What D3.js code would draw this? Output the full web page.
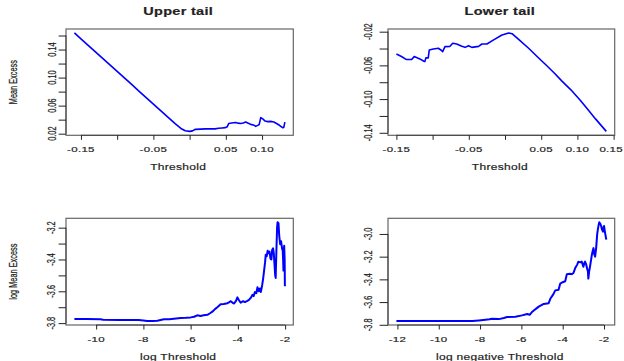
<!DOCTYPE html>
<html>
<head>
<meta charset="utf-8">
<script src="https://cdn.jsdelivr.net/npm/d3@7"></script>
<style>
  html, body { margin: 0; padding: 0; background: #fff; }
  svg { display: block; }
  text { font-family: "Liberation Sans", Arial, sans-serif; fill: #222; stroke: #222; stroke-width: 0.25px; }
</style>
</head>
<body>
<svg id="chart" width="624" height="361"></svg>
<script>
// ---------- data ----------
const upperX = [-0.159,-0.150,-0.140,-0.130,-0.120,-0.110,-0.100,-0.090,-0.080,-0.070,-0.060,-0.050,-0.040,-0.030,-0.020,-0.012,-0.006,0.000,0.004,0.008,0.015,0.022,0.029,0.035,0.040,0.045,0.049,0.052,0.054,0.058,0.0635,0.067,0.0704,0.074,0.0774,0.081,0.0843,0.088,0.0913,0.094,0.096,0.0982,0.101,0.1042,0.108,0.112,0.1162,0.120,0.124,0.1283,0.1300,0.1315];
const upperY = [0.1637,0.1553,0.1460,0.1367,0.1274,0.1181,0.1088,0.0995,0.0902,0.0808,0.0715,0.0622,0.0529,0.0436,0.0343,0.0275,0.0242,0.0233,0.0240,0.0262,0.0265,0.0268,0.0270,0.0268,0.0278,0.0282,0.0286,0.0300,0.0345,0.0352,0.0360,0.0350,0.0345,0.0352,0.0366,0.0350,0.0333,0.0325,0.0304,0.0318,0.0330,0.0429,0.0410,0.0380,0.0372,0.0375,0.0366,0.0345,0.0320,0.0286,0.0290,0.0366];

const lowerX = [-0.150,-0.143,-0.136,-0.129,-0.1254,-0.1176,-0.1120,-0.1107,-0.1093,-0.1060,-0.1046,-0.0990,-0.0921,-0.0880,-0.0861,-0.0829,-0.0760,-0.0722,-0.0667,-0.0597,-0.0551,-0.0504,-0.0458,-0.0365,-0.0319,-0.0250,-0.0157,-0.0042,0.0051,0.0097,0.020,0.033,0.045,0.056,0.068,0.079,0.091,0.1042,0.115,0.125,0.1399];
const lowerY = [-0.0464,-0.0495,-0.0531,-0.0531,-0.0496,-0.0523,-0.0551,-0.0555,-0.0511,-0.0511,-0.0417,-0.0405,-0.0397,-0.0420,-0.0437,-0.0378,-0.0374,-0.0338,-0.0346,-0.0374,-0.0386,-0.0366,-0.0386,-0.0374,-0.0346,-0.0346,-0.0298,-0.0239,-0.0215,-0.0224,-0.030,-0.040,-0.050,-0.059,-0.069,-0.079,-0.089,-0.1017,-0.113,-0.1235,-0.1383];

const logUpperX = [-10.92,-10.4,-9.82,-9.7,-9.0,-8.69,-8.2,-8.0,-7.84,-7.6,-7.41,-7.13,-6.9,-6.71,-6.42,-6.2,-6.0,-5.85,-5.72,-5.58,-5.45,-5.29,-5.18,-5.08,-4.97,-4.87,-4.73,-4.6,-4.44,-4.36,-4.30,-4.22,-4.16,-4.08,-4.02,-3.96,-3.88,-3.78,-3.70,-3.60,-3.53,-3.45,-3.38,-3.33,-3.28,-3.22,-3.17,-3.12,-3.07,-3.03,-2.97,-2.93,-2.89,-2.85,-2.82,-2.78,-2.74,-2.70,-2.66,-2.62,-2.58,-2.55,-2.51,-2.48,-2.45,-2.42,-2.40,-2.37,-2.34,-2.32,-2.28,-2.25,-2.21,-2.17,-2.13,-2.10,-2.08,-2.07,-2.05,-2.04,-2.02,-2.01];
const logUpperY = [-3.774,-3.774,-3.776,-3.779,-3.780,-3.781,-3.781,-3.783,-3.787,-3.787,-3.785,-3.776,-3.775,-3.772,-3.768,-3.767,-3.764,-3.760,-3.751,-3.755,-3.750,-3.748,-3.738,-3.728,-3.712,-3.700,-3.682,-3.680,-3.675,-3.668,-3.662,-3.672,-3.677,-3.660,-3.638,-3.655,-3.672,-3.662,-3.668,-3.660,-3.654,-3.640,-3.622,-3.630,-3.605,-3.612,-3.575,-3.600,-3.582,-3.605,-3.560,-3.520,-3.470,-3.420,-3.370,-3.380,-3.345,-3.360,-3.350,-3.395,-3.400,-3.340,-3.330,-3.360,-3.430,-3.500,-3.516,-3.350,-3.200,-3.166,-3.172,-3.250,-3.304,-3.285,-3.330,-3.345,-3.420,-3.470,-3.330,-3.314,-3.400,-3.569];

const logLowerX = [-12.05,-11.0,-10.0,-9.0,-8.38,-8.06,-7.74,-7.55,-7.42,-7.09,-6.85,-6.69,-6.29,-5.97,-5.72,-5.60,-5.50,-5.40,-5.16,-4.92,-4.68,-4.60,-4.45,-4.36,-4.20,-4.12,-4.00,-3.88,-3.80,-3.65,-3.56,-3.48,-3.40,-3.30,-3.24,-3.15,-3.08,-3.00,-2.95,-2.92,-2.86,-2.84,-2.78,-2.76,-2.72,-2.68,-2.62,-2.59,-2.55,-2.51,-2.47,-2.43,-2.38,-2.33,-2.30,-2.26,-2.23,-2.18,-2.14,-2.10,-2.05,-2.02,-2.00,-1.95,-1.89];
const logLowerY = [-3.767,-3.767,-3.767,-3.767,-3.767,-3.762,-3.756,-3.752,-3.747,-3.750,-3.740,-3.731,-3.729,-3.717,-3.705,-3.712,-3.690,-3.675,-3.640,-3.616,-3.610,-3.571,-3.530,-3.497,-3.491,-3.437,-3.425,-3.417,-3.354,-3.350,-3.354,-3.344,-3.303,-3.270,-3.244,-3.250,-3.244,-3.289,-3.255,-3.244,-3.270,-3.290,-3.330,-3.393,-3.330,-3.289,-3.220,-3.185,-3.150,-3.125,-3.180,-3.200,-3.120,-3.000,-2.962,-2.920,-2.897,-2.910,-2.930,-2.960,-2.980,-2.940,-2.930,-2.990,-3.050];

// ticks (all tick marks) and which get labels
const upperXTicks = [-0.15,-0.10,-0.05,0.00,0.05,0.10];
const upperXLabels = ["-0.15","","-0.05","","0.05","0.10"];
const upperYTicks = [0.02,0.04,0.06,0.08,0.10,0.12,0.14,0.16];
const upperYLabels = ["0.02","","0.06","","0.10","","0.14",""];

const lowerXTicks = [-0.15,-0.10,-0.05,0.00,0.05,0.10,0.15];
const lowerXLabels = ["-0.15","","-0.05","","0.05","0.10","0.15"];
const lowerYTicks = [-0.14,-0.12,-0.10,-0.08,-0.06,-0.04,-0.02];
const lowerYLabels = ["-0.14","","-0.10","","-0.06","","-0.02"];

const logUpperXTicks = [-10,-8,-6,-4,-2];
const logUpperXLabels = ["-10","-8","-6","-4","-2"];
const logUpperYTicks = [-3.8,-3.7,-3.6,-3.5,-3.4,-3.3,-3.2];
const logUpperYLabels = ["-3.8","","-3.6","","-3.4","","-3.2"];

const logLowerXTicks = [-12,-10,-8,-6,-4,-2];
const logLowerXLabels = ["-12","-10","-8","-6","-4","-2"];
const logLowerYTicks = [-3.8,-3.6,-3.4,-3.2,-3.0];
const logLowerYLabels = ["-3.8","-3.6","-3.4","-3.2","-3.0"];

const titles = ["Upper tail","Lower tail","",""];
const xTitles = ["Threshold","Threshold","log Threshold","log negative Threshold"];
const yTitles = ["Mean Excess","","log Mean Excess",""];

// ---------- layout ----------
const svg = d3.select("#chart");
const W = 624;
const SY = 0.7;   // vertical squash of horizontal text
const SR = 0.64;  // length squash of rotated text

const panels = [
  {x: upperX, y: upperY, xt: upperXTicks, xl: upperXLabels, yt: upperYTicks, yl: upperYLabels,
   box: {l: 66, r: 293.3, t: 29, b: 135.3}, yLabX: 51.5, tickL: 7.4, yTitleX: 13, xLabY: 149.3, xTitleY: 166.7, titleY: 11.5, lw: 1.6},
  {x: lowerX, y: lowerY, xt: lowerXTicks, xl: lowerXLabels, yt: lowerYTicks, yl: lowerYLabels,
   box: {l: 388, r: 614.7, t: 29, b: 135.3}, yLabX: 367.5, tickL: 8.4, yTitleX: 0, xLabY: 149.3, xTitleY: 166.7, titleY: 11.5, lw: 1.6},
  {x: logUpperX, y: logUpperY, xt: logUpperXTicks, xl: logUpperXLabels, yt: logUpperYTicks, yl: logUpperYLabels,
   box: {l: 66, r: 293.3, t: 218.3, b: 325}, yLabX: 50.5, tickL: 7.4, yTitleX: 13, xLabY: 339.3, xTitleY: 356.7, titleY: 0, lw: 2},
  {x: logLowerX, y: logLowerY, xt: logLowerXTicks, xl: logLowerXLabels, yt: logLowerYTicks, yl: logLowerYLabels,
   box: {l: 388, r: 614.7, t: 218.3, b: 325}, yLabX: 368, tickL: 8.4, yTitleX: 0, xLabY: 339.3, xTitleY: 356.7, titleY: 0, lw: 2}
];

function extDomain(arr) {
  const [a, b] = d3.extent(arr);
  const e = (b - a) * 0.04;
  return [a - e, b + e];
}

function hText(g, x, y, str, size, weight, spacing) {
  const t = g.append("text")
    .attr("text-anchor", "middle")
    .attr("dominant-baseline", "central")
    .style("font-size", size + "px")
    .style("font-weight", weight || "normal")
    .style("letter-spacing", (spacing || 0) + "px")
    .text(str);
  const half = t.node().getComputedTextLength() / 2;
  const cx = Math.min(x, W - 1 - half);
  t.attr("transform", `translate(${cx},${y}) scale(1,${SY})`);
}
function vText(g, x, y, str, size) {
  g.append("text")
    .attr("transform", `translate(${x},${y}) rotate(-90) scale(${SR},1)`)
    .attr("text-anchor", "middle")
    .attr("dominant-baseline", "central")
    .style("font-size", size + "px")
    .text(str);
}

panels.forEach((p, i) => {
  const g = svg.append("g");
  const B = p.box;
  const xs = d3.scaleLinear().domain(extDomain(p.x)).range([B.l, B.r]);
  const ys = d3.scaleLinear().domain(extDomain(p.y)).range([B.b, B.t]);

  // line
  const pts = p.x.map((v, k) => [v, p.y[k]]);
  g.append("path")
    .datum(pts)
    .attr("d", d3.line().x(d => xs(d[0])).y(d => ys(d[1])))
    .attr("fill", "none")
    .attr("stroke", "#0000ff")
    .attr("stroke-width", p.lw)
    .attr("stroke-linejoin", "round");

  // box
  g.append("rect")
    .attr("x", B.l).attr("y", B.t)
    .attr("width", B.r - B.l).attr("height", B.b - B.t)
    .attr("fill", "none").attr("stroke", "#666").attr("stroke-width", 1.2);

  // x axis
  const xAxis = d3.axisBottom(xs).tickValues(p.xt).tickSize(4.5).tickFormat(() => "");
  const xg = g.append("g").attr("transform", `translate(0,${B.b})`).call(xAxis);
  xg.select(".domain")
    .attr("d", `M${xs(p.xt[0])},0H${xs(p.xt[p.xt.length - 1])}`)
    .attr("stroke", "#444");
  xg.selectAll(".tick line").attr("stroke", "#222").attr("stroke-width", 1);
  p.xt.forEach((v, k) => { if (p.xl[k]) hText(g, xs(v), p.xLabY, p.xl[k], 11.5, "normal", 0.3); });

  // y axis
  const yAxis = d3.axisLeft(ys).tickValues(p.yt).tickSize(p.tickL).tickFormat(() => "");
  const yg = g.append("g").attr("transform", `translate(${B.l},0)`).call(yAxis);
  yg.select(".domain")
    .attr("d", `M0,${ys(p.yt[0])}V${ys(p.yt[p.yt.length - 1])}`)
    .attr("stroke", "#444");
  yg.selectAll(".tick line").attr("stroke", "#222").attr("stroke-width", 1);
  p.yt.forEach((v, k) => { if (p.yl[k]) vText(g, p.yLabX, ys(v), p.yl[k], 11.5); });

  // titles
  const cx = (B.l + B.r) / 2 - 1.5;
  if (titles[i]) hText(g, cx, p.titleY, titles[i], 14.5, "bold", 0.3);
  hText(g, cx, p.xTitleY, xTitles[i], 12, "normal", 0.3);
  if (yTitles[i]) vText(g, p.yTitleX, (B.t + B.b) / 2, yTitles[i], 11.5);
});
</script>
</body>
</html>
